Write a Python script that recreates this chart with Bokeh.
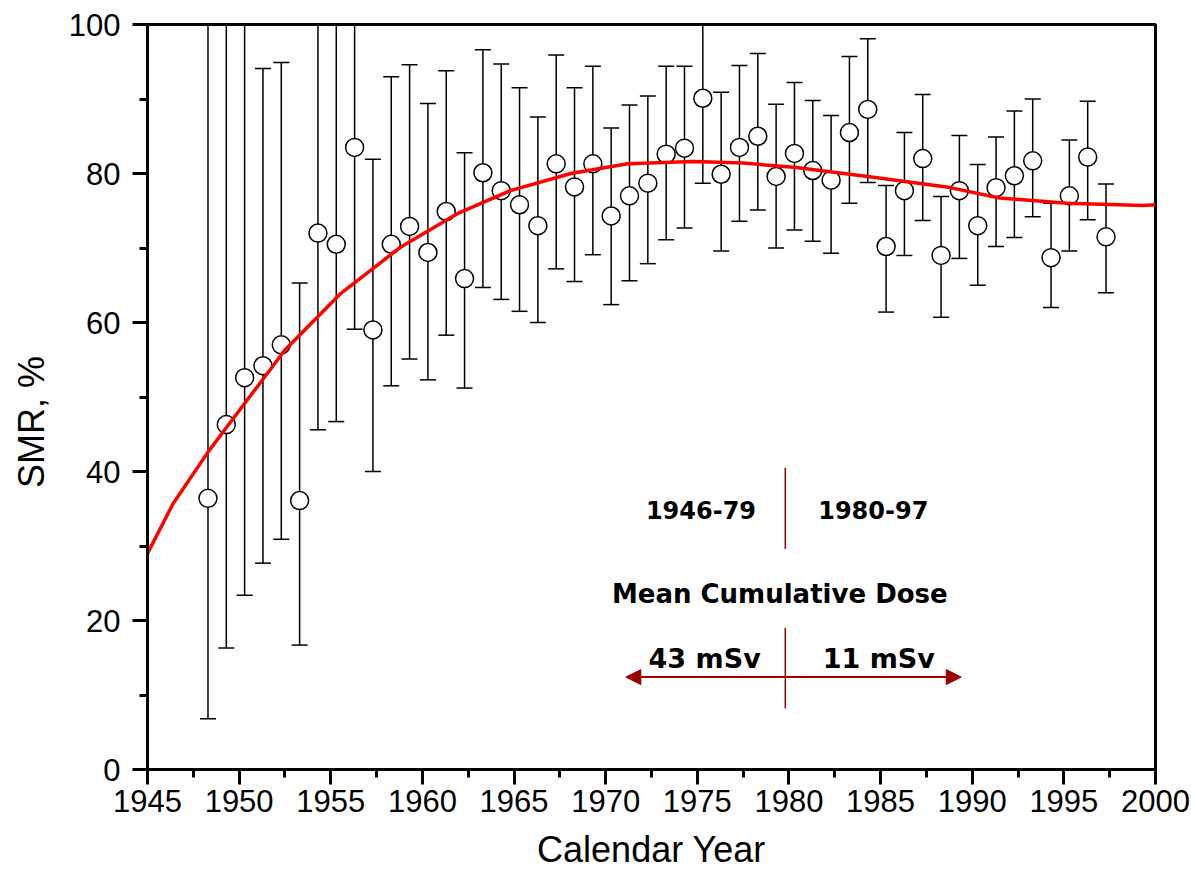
from bokeh.plotting import figure
from bokeh.models import Range1d, SingleIntervalTicker, Label, Arrow, NormalHead, ColumnDataSource
from bokeh.embed import file_html
from bokeh.resources import INLINE

# ---- data ----
years = list(range(1948, 1998))
smr = [36.4, 46.3, 52.6, 54.2, 57.0, 36.1, 72.0, 70.5, 83.5, 59.0,
       70.5, 72.9, 69.4, 74.9, 65.9, 80.1, 77.7, 75.8, 73.0, 81.3,
       78.2, 81.3, 74.3, 77.0, 78.7, 82.6, 83.4, 90.1, 79.9, 83.5,
       85.0, 79.6, 82.7, 80.4, 79.1, 85.5, 88.6, 70.2, 77.7, 82.0,
       69.0, 77.7, 73.0, 78.1, 79.7, 81.7, 68.7, 77.0, 82.2, 71.5]
lower = [6.8, 16.3, 23.4, 27.7, 30.9, 16.7, 45.6, 46.7, 59.1, 40.0,
         51.5, 55.1, 52.3, 58.3, 51.2, 64.7, 63.1, 61.5, 60.0, 67.2,
         65.5, 69.1, 62.4, 65.6, 67.9, 71.1, 72.7, 78.7, 69.6, 73.6,
         75.1, 70.0, 72.4, 70.9, 69.3, 76.0, 78.8, 61.4, 69.0, 73.7,
         60.7, 68.6, 65.0, 70.2, 71.4, 74.2, 62.0, 69.6, 73.8, 64.0]
upper = [105.0, 104.0, 106.0, 94.1, 94.9, 65.3, 104.0, 102.0, 114.0, 81.9,
         93.0, 94.6, 89.4, 93.8, 82.8, 96.6, 94.7, 91.5, 87.6, 95.9,
         91.5, 94.4, 86.1, 89.2, 90.4, 94.4, 94.4, 102.5, 90.9, 94.5,
         96.1, 89.3, 92.2, 89.8, 87.8, 95.7, 98.1, 78.4, 85.5, 90.6,
         76.9, 85.1, 81.2, 84.9, 88.4, 90.0, 76.0, 84.5, 89.7, 78.6]

fit_year = [1945, 1946.4, 1948.3, 1949.4, 1952.5, 1955.5, 1958.8, 1961.9, 1964.8, 1968.1,
            1971.2, 1974.8, 1977.5, 1980.4, 1984.3, 1988.6, 1991.5, 1995.2, 1999.3, 2000]
fit_smr = [29.0, 35.7, 42.6, 46.2, 56.3, 63.8, 70.1, 74.6, 77.7, 80.0,
           81.3, 81.6, 81.4, 80.8, 79.6, 78.2, 76.7, 76.0, 75.7, 75.8]

period_labels = ["1946-79", "1980-97"]
dose_labels = ["43 mSv", "11 mSv"]
dose_title = "Mean Cumulative Dose"
x_title = "Calendar Year"
y_title = "SMR, %"

# plotted at mid-year position
xpos = [y + 0.3 for y in years]

src = ColumnDataSource(dict(x=xpos, y=smr, lo=lower, hi=upper))

p = figure(width=1191, height=878, output_backend="svg", toolbar_location=None,
           x_range=Range1d(1945, 2000), y_range=Range1d(0, 100),
           min_border_left=147, min_border_right=36, min_border_top=24, min_border_bottom=109)

p.xgrid.visible = False
p.ygrid.visible = False
p.outline_line_color = "black"
p.outline_line_width = 3
p.background_fill_color = "white"
p.border_fill_color = "white"

p.xaxis.ticker = SingleIntervalTicker(interval=5, num_minor_ticks=2)
p.yaxis.ticker = SingleIntervalTicker(interval=20, num_minor_ticks=2)

for ax in (p.xaxis[0], p.yaxis[0]):
    ax.axis_line_width = 3
    ax.axis_line_color = "black"
    ax.major_tick_out = 15
    ax.major_tick_in = 0
    ax.minor_tick_out = 8
    ax.minor_tick_in = 0
    ax.major_tick_line_width = 3
    ax.minor_tick_line_width = 3
    ax.major_label_text_font = "Liberation Sans"
    ax.major_label_text_font_size = "31px"
    ax.major_label_text_color = "black"
    ax.axis_label_text_font = "Liberation Sans"
    ax.axis_label_text_font_size = "36px"
    ax.axis_label_text_font_style = "normal"
    ax.axis_label_text_color = "black"

p.xaxis.major_label_standoff = 5
p.yaxis.major_label_standoff = 12
p.xaxis.axis_label = x_title
# trailing no-break spaces move the visible title a little below the frame centre, as in the reference
p.yaxis.axis_label = y_title + "\u00a0" * 5
p.xaxis.axis_label_standoff = 14
p.yaxis.axis_label_standoff = 14

# error bars
p.segment(x0="x", y0="lo", x1="x", y1="hi", source=src, line_color="black", line_width=1.5)
p.scatter(x="x", y="lo", source=src, marker="dash", size=16, line_color="black", line_width=1.5)
p.scatter(x="x", y="hi", source=src, marker="dash", size=16, line_color="black", line_width=1.5)
# points
p.scatter(x="x", y="y", source=src, marker="circle", size=18, fill_color="white",
          line_color="black", line_width=1.5)
# fitted curve
p.line(fit_year, fit_smr, line_color="#ff0000", line_width=3.5)

# annotation
dred = "#990000"
p.segment(x0=[1979.8, 1979.8], y0=[29.6, 8.2], x1=[1979.8, 1979.8], y1=[40.5, 19.0],
          line_color=dred, line_width=1.5)
p.add_layout(Arrow(start=NormalHead(size=15, fill_color=dred, line_color=dred),
                   end=NormalHead(size=15, fill_color=dred, line_color=dred),
                   x_start=1971.1, y_start=12.4, x_end=1989.4, y_end=12.4,
                   line_color=dred, line_width=2))

font = "DejaVu Sans"
p.add_layout(Label(x=1975.2, y=34.8, text=period_labels[0], text_font=font, text_font_style="bold",
                   text_font_size="24px", text_align="center", text_baseline="middle", text_color="black"))
p.add_layout(Label(x=1984.6, y=34.8, text=period_labels[1], text_font=font, text_font_style="bold",
                   text_font_size="24px", text_align="center", text_baseline="middle", text_color="black"))
p.add_layout(Label(x=1979.5, y=23.5, text=dose_title, text_font=font, text_font_style="bold",
                   text_font_size="26px", text_align="center", text_baseline="middle", text_color="black"))
p.add_layout(Label(x=1975.4, y=14.9, text=dose_labels[0], text_font=font, text_font_style="bold",
                   text_font_size="27px", text_align="center", text_baseline="middle", text_color="black"))
p.add_layout(Label(x=1984.9, y=14.9, text=dose_labels[1], text_font=font, text_font_style="bold",
                   text_font_size="27px", text_align="center", text_baseline="middle", text_color="black"))

open("out.html", "w").write(file_html(p, INLINE))
